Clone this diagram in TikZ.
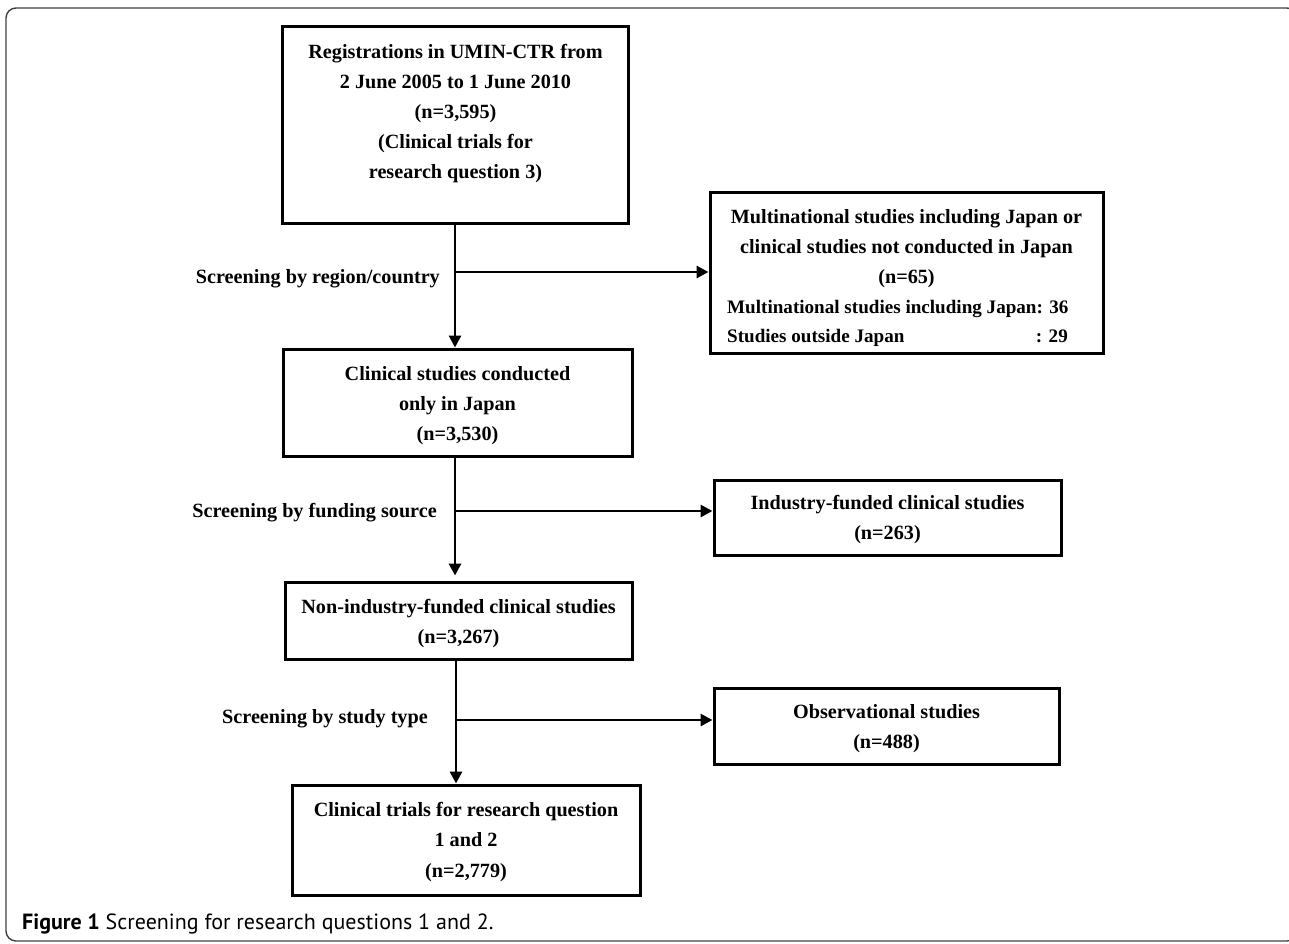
\documentclass[tikz,border=0pt]{standalone}
\usepackage{fontspec}
\setmainfont{Liberation Serif}
\newfontfamily\capfont{PT Sans}
\usetikzlibrary{arrows.meta}
\begin{document}
\begin{tikzpicture}[x=1pt,y=-1pt,
  box/.style={draw=black, line width=3pt, inner sep=0pt},
  txt/.style={inner sep=0pt, font=\fontsize{20.2}{30}\selectfont\bfseries},
  small/.style={inner sep=0pt, font=\fontsize{19.1}{29}\selectfont\bfseries},
  lbl/.style={inner sep=0pt, font=\fontsize{20.2}{30}\selectfont\bfseries},
  conn/.style={line width=2.9pt, -{Triangle[length=12pt,width=12pt]}},
  frame/.style={draw=black!75, line width=1.4pt, rounded corners=10pt}]
\useasboundingbox (0,0) rectangle (1289,943);
\draw[frame] (6,8) rectangle (1297,941);

% main boxes
\node[box, minimum width=346pt, minimum height=197pt] (b1) at (455,124.5) {};
\node[box, minimum width=349pt, minimum height=107pt] (b2) at (457.5,402.5) {};
\node[box, minimum width=347pt, minimum height=77pt] (b3) at (458.5,620.5) {};
\node[box, minimum width=348pt, minimum height=110pt] (b4) at (466,840) {};
% side boxes
\node[box, minimum width=393pt, minimum height=161pt] (r1) at (906.5,272.5) {};
\node[box, minimum width=347pt, minimum height=75pt] (r2) at (887.5,517.5) {};
\node[box, minimum width=345pt, minimum height=76pt] (r3) at (886.5,726) {};

% box texts
\node[txt, anchor=base] (t1a) at (455.5,58) {Registrations in UMIN-CTR from};
\node[txt, anchor=base] (t1b) at (455.5,88) {2 June 2005 to 1 June 2010};
\node[txt, anchor=base] (t1c) at (455.5,118) {(n=3,595)};
\node[txt, anchor=base] (t1d) at (455.5,148) {(Clinical trials for};
\node[txt, anchor=base] (t1e) at (455.5,178) {research question 3)};

\node[txt, anchor=base] (t2a) at (457.5,380) {Clinical studies conducted};
\node[txt, anchor=base] (t2b) at (457.5,410) {only in Japan};
\node[txt, anchor=base] (t2c) at (457.5,440) {(n=3,530)};

\node[txt, anchor=base] (t3a) at (458.5,613) {Non-industry-funded clinical studies};
\node[txt, anchor=base] (t3b) at (458.5,643) {(n=3,267)};

\node[txt, anchor=base] (t4a) at (466,816) {Clinical trials for research question};
\node[txt, anchor=base] (t4b) at (466,846) {1 and 2};
\node[txt, anchor=base] (t4c) at (466,877) {(n=2,779)};

\node[txt, anchor=base] (r1a) at (906.5,223) {Multinational studies including Japan or};
\node[txt, anchor=base] (r1b) at (906.5,253) {clinical studies not conducted in Japan};
\node[txt, anchor=base] (r1c) at (906.5,283) {(n=65)};
\node[small, anchor=base west] (r1d) at (727,313) {Multinational studies including Japan: 36};
\node[small, anchor=base west] (r1e) at (727,342) {Studies outside Japan};
\node[small, anchor=base east] (r1f) at (1068,342) {: 29};

\node[txt, anchor=base] (r2a) at (887.5,509) {Industry-funded clinical studies};
\node[txt, anchor=base] (r2b) at (887.5,539) {(n=263)};

\node[txt, anchor=base] (r3a) at (886.5,718) {Observational studies};
\node[txt, anchor=base] (r3b) at (886.5,748) {(n=488)};

% screening labels
\node[lbl, anchor=base east] (s1) at (440,283) {Screening by region/country};
\node[lbl, anchor=base east] (s2) at (437,517) {Screening by funding source};
\node[lbl, anchor=base east] (s3) at (428,723) {Screening by study type};

% junctions
\coordinate (j1) at (455,272);
\coordinate (j2) at (455,511);
\coordinate (j3) at (456,720);

% connectors
\draw[conn] (b1.south -| j1) -- (j1 |- b2.north);
\draw[conn] (j1) -- (r1.west |- j1);
\draw[conn, shorten >=5pt] (b2.south -| j2) -- (j2 |- b3.north);
\draw[conn] (j2) -- (r2.west |- j2);
\draw[conn] (b3.south -| j3) -- (j3 |- b4.north);
\draw[conn] (j3) -- (r3.west |- j3);

% caption
\node[inner sep=0pt, anchor=base west, font=\capfont\fontsize{22}{26}\selectfont] (cap) at (22,929) {\textbf{Figure 1} Screening for research questions 1 and 2.};
\end{tikzpicture}
\end{document}
